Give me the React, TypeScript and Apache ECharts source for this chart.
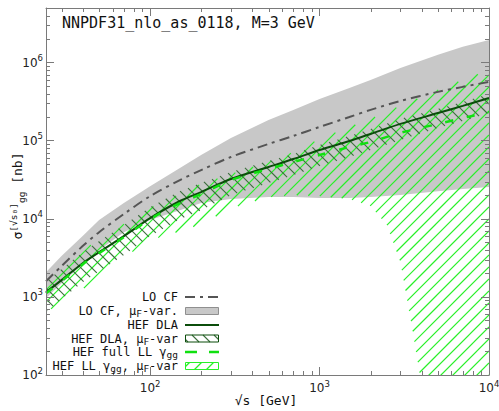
import React, { useEffect, useRef } from 'react';
import * as echarts from 'echarts';

// Collision energy grid (GeV) shared by the curves and most band edges
const energy = [24.3, 30, 40, 50, 70, 100, 150, 200, 300, 500, 700, 1000, 1500, 2000, 3000, 5000, 7000, 10000];

// LO collinear factorisation, central value and mu_F variation band (nb)
const loCF = [1590, 2480, 4470, 6740, 11500, 19500, 31300, 42100, 61800, 90800, 115000, 150000, 201000, 248000, 323000, 422000, 489000, 566000];
const loCFBandHigh = [2075, 3330, 6000, 9620, 15900, 26200, 44700, 65600, 108000, 184000, 248000, 343000, 474000, 600000, 855000, 1260000, 1590000, 1950000];
const loCFBandLow = [962, 1500, 2620, 3970, 6740, 9620, 12900, 15900, 17900, 19000, 19000, 18400, 18400, 19000, 20100, 22600, 24000, 25500];

// HEF double-logarithmic approximation and its mu_F band (nb)
const hefDLA = [1150, 1640, 2700, 3740, 6000, 10200, 16900, 22000, 32300, 46000, 58200, 76000, 99000, 122000, 164000, 226000, 279000, 352000];
const hefDLABandHigh = [1590, 2270, 3740, 5180, 8300, 14100, 22600, 28700, 39700, 54900, 67500, 88100, 115000, 141000, 190000, 255000, 313000, 397000];
const hefDLABandLow = [637, 935, 1540, 2130, 3430, 6000, 9910, 12900, 20100, 28700, 36300, 47400, 61800, 76000, 102000, 146000, 179000, 226000];

// HEF full LL gamma_gg, central value and upper edge of its mu_F band (nb)
const hefFullLL = [1110, 1590, 2620, 3630, 5820, 9910, 15900, 20700, 31300, 43400, 53300, 65600, 83000, 96200, 126000, 164000, 195000, 233000];
const hefLLBandHigh = [1640, 2330, 3970, 5330, 8550, 13700, 20700, 27900, 37400, 53300, 71300, 105000, 150000, 190000, 279000, 447000, 600000, 805000];

// Lower edge of the LL band, which collapses at high energy
const llLowEnergy = [24.3, 30, 40, 50, 70, 100, 150, 200, 300, 500, 700, 1000, 1500, 2000, 2500, 3000, 3500, 4000, 5000, 7000, 10000];
const hefLLBandLow = [637, 855, 1260, 1840, 3230, 5330, 6950, 8550, 13700, 19000, 20100, 19500, 17900, 14600, 8300, 2790, 433, 75, 30, 15, 10];

// Axis ranges
const X_MIN = 24.3;
const X_MAX = 10000;
const Y_MIN = 100;
const Y_MAX = 5e6;

// Minor tick positions (2..9 within each decade)
const minorSteps = [2, 3, 4, 5, 6, 7, 8, 9];
const xMinorTicks = [10, 100, 1000]
  .flatMap((d) => minorSteps.map((m) => m * d))
  .filter((v) => v > X_MIN && v < X_MAX);
const yMinorTicks = [100, 1000, 10000, 100000, 1000000]
  .flatMap((d) => minorSteps.map((m) => m * d))
  .filter((v) => v > Y_MIN && v < Y_MAX);

const FRAME = '#7a7a7a';
const GRAY_FILL = '#c8c8c8';
const DARK_GREEN = '#0b4d0b';
const DLA_HATCH = '#3c6e3c';
const BRIGHT_GREEN = '#10e010';
const LL_HATCH = '#28f028';
const MONO = '"DejaVu Sans Mono", monospace';
const SANS = '"DejaVu Sans", sans-serif';

// Diagonal hatch lines clipped to a polygon given in pixel space, returned as
// point pairs. forward = '/' lines (x + y = c), otherwise '\' lines (x - y = c).
function hatchSegments(poly: number[][], spacing: number, forward: boolean): number[][][] {
  const u = (p: number[]) => (forward ? p[0] + p[1] : p[0] - p[1]);
  let uMin = Infinity;
  let uMax = -Infinity;
  poly.forEach((p) => {
    const v = u(p);
    uMin = Math.min(uMin, v);
    uMax = Math.max(uMax, v);
  });
  const segs: number[][][] = [];
  for (let c = Math.ceil(uMin / spacing) * spacing; c <= uMax; c += spacing) {
    const hits: number[][] = [];
    for (let i = 0; i < poly.length; i++) {
      const a = poly[i];
      const b = poly[(i + 1) % poly.length];
      const ua = u(a);
      const ub = u(b);
      if ((ua <= c && c < ub) || (ub <= c && c < ua)) {
        const t = (c - ua) / (ub - ua);
        hits.push([a[0] + t * (b[0] - a[0]), a[1] + t * (b[1] - a[1])]);
      }
    }
    hits.sort((p, q) => p[0] - q[0]);
    for (let k = 0; k + 1 < hits.length; k += 2) segs.push([hits[k], hits[k + 1]]);
  }
  return segs;
}

function hatchLines(segs: number[][][], color: string, width: number) {
  return segs.map((s) => ({
    type: 'line',
    shape: { x1: s[0][0], y1: s[0][1], x2: s[1][0], y2: s[1][1] },
    style: { stroke: color, lineWidth: width },
  }));
}

type Fill = { solid?: string; hatch?: { color: string; spacing: number; forward: boolean; width: number } };

function band(name: string, xsHigh: number[], high: number[], xsLow: number[], low: number[], fill: Fill, z: number) {
  return {
    type: 'custom',
    name,
    silent: true,
    clip: true,
    z,
    data: [[xsHigh[0], high[0]]],
    renderItem: (_params: any, api: any) => {
      const pts: number[][] = [];
      xsHigh.forEach((x, i) => pts.push(api.coord([x, high[i]])));
      for (let i = xsLow.length - 1; i >= 0; i--) pts.push(api.coord([xsLow[i], low[i]]));
      if (fill.solid) {
        return { type: 'polygon', shape: { points: pts }, style: { fill: fill.solid, stroke: 'none', lineWidth: 0 } };
      }
      const h = fill.hatch!;
      return { type: 'group', children: hatchLines(hatchSegments(pts, h.spacing, h.forward), h.color, h.width) };
    },
  };
}

function pairs(xs: number[], ys: number[]) {
  return xs.map((x, i) => [x, ys[i]]);
}

const powerLabel = (value: number) => {
  const l = Math.log10(value);
  const e = Math.round(l);
  if (Math.abs(l - e) > 1e-6) return '';
  return `{b|10}{s|${e}}`;
};

const labelRich = {
  b: { fontSize: 12, fontFamily: SANS, color: '#222', lineHeight: 18 },
  s: { fontSize: 8.5, fontFamily: SANS, color: '#222', lineHeight: 9, verticalAlign: 'top' },
};

function makeAxis(kind: 'x' | 'y', position: string, withLabels: boolean) {
  return {
    type: 'log',
    logBase: 10,
    min: kind === 'x' ? X_MIN : Y_MIN,
    max: kind === 'x' ? X_MAX : Y_MAX,
    position,
    z: 10,
    axisLine: { show: true, lineStyle: { color: FRAME, width: 1 } },
    axisTick: { show: true, inside: true, length: 8, lineStyle: { color: FRAME, width: 1 } },
    minorTick: { show: false },
    splitLine: { show: false },
    axisLabel: withLabels
      ? { show: true, formatter: powerLabel, rich: labelRich, margin: kind === 'x' ? 4 : 3, hideOverlap: false }
      : { show: false },
  };
}

function minorTickSeries(kind: 'x' | 'y') {
  const vals = kind === 'x' ? xMinorTicks : yMinorTicks;
  return {
    type: 'custom',
    silent: true,
    z: 12,
    data: vals.map((v) => (kind === 'x' ? [v, Y_MIN] : [X_MIN, v])),
    renderItem: (params: any, api: any) => {
      const cs = params.coordSys;
      const p = api.coord([api.value(0), api.value(1)]);
      const style = { stroke: FRAME, lineWidth: 1 };
      if (kind === 'x') {
        const x = Math.round(p[0]) + 0.5;
        return {
          type: 'group',
          children: [
            { type: 'line', shape: { x1: x, y1: cs.y + cs.height, x2: x, y2: cs.y + cs.height - 4 }, style },
            { type: 'line', shape: { x1: x, y1: cs.y, x2: x, y2: cs.y + 4 }, style },
          ],
        };
      }
      const y = Math.round(p[1]) + 0.5;
      return {
        type: 'group',
        children: [
          { type: 'line', shape: { x1: cs.x, y1: y, x2: cs.x + 4, y2: y }, style },
          { type: 'line', shape: { x1: cs.x + cs.width, y1: y, x2: cs.x + cs.width - 4, y2: y }, style },
        ],
      };
    },
  };
}

const legendRich = {
  m: { fontSize: 12, fontFamily: MONO, fill: '#111', lineHeight: 15 },
  s: { fontSize: 9.5, fontFamily: MONO, fill: '#111', lineHeight: 10, verticalAlign: 'bottom' },
};

function legendText(text: string, y: number) {
  return {
    type: 'text',
    x: 178,
    y,
    z: 20,
    style: { text, align: 'right', verticalAlign: 'middle', rich: legendRich, legacy: false },
  };
}

// Hatched legend swatch: outline plus clipped diagonal lines
function hatchSwatch(y: number, color: string, outline: string, spacing: number, forward: boolean, width: number) {
  const x0 = 185.5;
  const y0 = y - 3.5;
  const w = 33;
  const h = 7;
  const rectPoly = [
    [x0, y0],
    [x0 + w, y0],
    [x0 + w, y0 + h],
    [x0, y0 + h],
  ];
  return {
    type: 'group',
    children: [
      ...hatchLines(hatchSegments(rectPoly, spacing, forward), color, width).map((el) => ({ ...el, z: 20 })),
      { type: 'rect', z: 20, shape: { x: x0, y: y0, width: w, height: h }, style: { fill: 'none', stroke: outline, lineWidth: 1 } },
    ],
  };
}

export default function App() {
  const ref = useRef<HTMLDivElement>(null);

  useEffect(() => {
    if (!ref.current) return;
    const chart = echarts.init(ref.current, undefined, { renderer: 'svg' });

    const legendRows = [297, 311, 325, 338.5, 352, 366];

    chart.setOption({
      animation: false,
      backgroundColor: '#ffffff',
      grid: { left: 46, right: 10, top: 8, bottom: 36, containLabel: false, outerBoundsMode: 'none' },
      xAxis: [makeAxis('x', 'bottom', true), makeAxis('x', 'top', false)],
      yAxis: [makeAxis('y', 'left', true), makeAxis('y', 'right', false)],
      series: [
        band('LO CF, μF-var.', energy, loCFBandHigh, energy, loCFBandLow, { solid: GRAY_FILL }, 1),
        band('HEF LL γgg, μF-var', energy, hefLLBandHigh, llLowEnergy, hefLLBandLow,
          { hatch: { color: LL_HATCH, spacing: 12, forward: true, width: 1.2 } }, 2),
        band('HEF DLA, μF-var', energy, hefDLABandHigh, energy, hefDLABandLow,
          { hatch: { color: DLA_HATCH, spacing: 11, forward: false, width: 1.1 } }, 3),
        {
          type: 'line',
          name: 'LO CF',
          data: pairs(energy, loCF),
          symbol: 'none',
          smooth: 0.3,
          silent: true,
          z: 4,
          lineStyle: { color: '#555555', width: 2, type: [10, 5, 3, 5] },
        },
        {
          type: 'line',
          name: 'HEF DLA',
          data: pairs(energy, hefDLA),
          symbol: 'none',
          smooth: 0.3,
          silent: true,
          z: 5,
          lineStyle: { color: DARK_GREEN, width: 2 },
        },
        {
          type: 'line',
          name: 'HEF full LL γgg',
          data: pairs(energy, hefFullLL),
          symbol: 'none',
          smooth: 0.3,
          silent: true,
          z: 6,
          lineStyle: { color: BRIGHT_GREEN, width: 2.5, type: [8, 14] },
        },
        minorTickSeries('x'),
        minorTickSeries('y'),
      ],
      graphic: [
        {
          type: 'text',
          x: 62,
          y: 23,
          z: 20,
          style: {
            text: 'NNPDF31_nlo_as_0118, M=3 GeV',
            fontSize: 15,
            fontFamily: MONO,
            fill: '#111',
            align: 'left',
            verticalAlign: 'middle',
            legacy: false,
          },
        },
        {
          type: 'text',
          x: 266,
          y: 400,
          z: 20,
          style: {
            text: '√s [GeV]',
            fontSize: 13,
            fontFamily: MONO,
            fill: '#111',
            align: 'center',
            verticalAlign: 'middle',
            legacy: false,
          },
        },
        {
          type: 'text',
          x: 17,
          y: 196,
          z: 20,
          rotation: Math.PI / 2,
          style: {
            text: '{m|σ}{sup|[√s₀]}{sub|gg}{m| [nb]}',
            align: 'center',
            verticalAlign: 'middle',
            legacy: false,
            rich: {
              m: { fontSize: 13, fontFamily: MONO, fill: '#111', lineHeight: 18 },
              sup: { fontSize: 9.5, fontFamily: MONO, fill: '#111', lineHeight: 10, verticalAlign: 'top' },
              sub: { fontSize: 9.5, fontFamily: MONO, fill: '#111', lineHeight: 10, verticalAlign: 'bottom' },
            },
          },
        },
        // legend
        legendText('{m|LO CF}', legendRows[0]),
        legendText('{m|LO CF, μ}{s|F}{m|-var.}', legendRows[1]),
        legendText('{m|HEF DLA}', legendRows[2]),
        legendText('{m|HEF DLA, μ}{s|F}{m|-var}', legendRows[3]),
        legendText('{m|HEF full LL γ}{s|gg}', legendRows[4]),
        legendText('{m|HEF LL γ}{s|gg}{m|, μ}{s|F}{m|-var}', legendRows[5]),
        {
          type: 'line',
          z: 20,
          shape: { x1: 185, y1: legendRows[0], x2: 219, y2: legendRows[0] },
          style: { stroke: '#555555', lineWidth: 2, lineDash: [10, 5, 3, 5] },
        },
        {
          type: 'rect',
          z: 20,
          shape: { x: 185.5, y: legendRows[1] - 3.5, width: 33, height: 7 },
          style: { fill: GRAY_FILL, stroke: '#8f8f8f', lineWidth: 1 },
        },
        {
          type: 'line',
          z: 20,
          shape: { x1: 185, y1: legendRows[2], x2: 219, y2: legendRows[2] },
          style: { stroke: DARK_GREEN, lineWidth: 2 },
        },
        hatchSwatch(legendRows[3], DLA_HATCH, DARK_GREEN, 11, false, 1.1),
        {
          type: 'line',
          z: 20,
          shape: { x1: 185, y1: legendRows[4], x2: 219, y2: legendRows[4] },
          style: { stroke: BRIGHT_GREEN, lineWidth: 2.5, lineDash: [12, 12] },
        },
        hatchSwatch(legendRows[5], LL_HATCH, LL_HATCH, 12, true, 1.2),
      ],
    });

    return () => chart.dispose();
  }, []);

  return (
    <div
      ref={ref}
      style={{ position: 'absolute', left: 0, top: 0, width: 499, height: 411, background: '#fff' }}
    />
  );
}
